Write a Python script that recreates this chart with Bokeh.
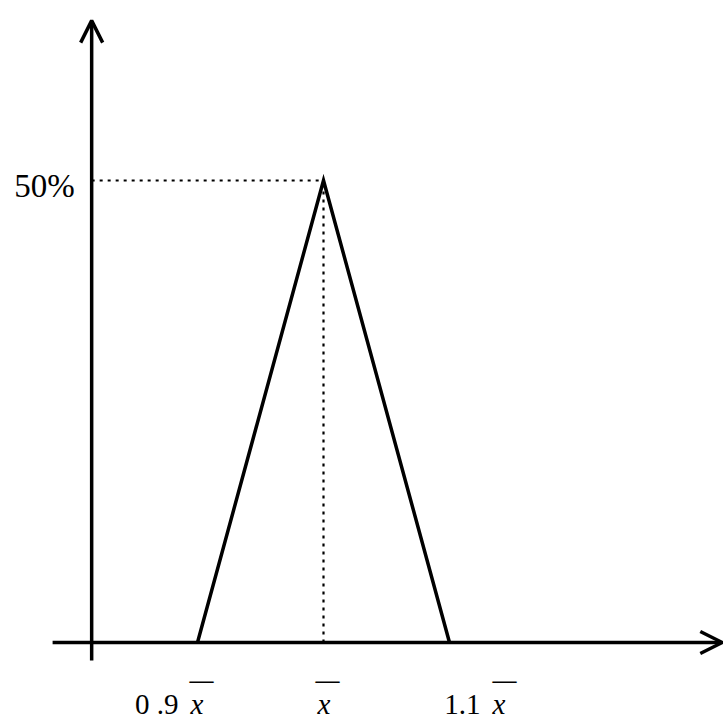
from bokeh.plotting import figure
from bokeh.models import Arrow, OpenHead, Range1d
from bokeh.core.properties import value
from bokeh.embed import file_html
from bokeh.resources import INLINE

# Triangular distribution: height (%) at 0.9·x̄, x̄ and 1.1·x̄
tri_x = [0.9, 1.0, 1.1]
tri_y = [0, 50, 0]

# Tick labels under the horizontal axis (numeric factor, then an italic x̄)
tick_values = [0.9, 1.0, 1.1]
tick_numbers = ["0 .9", "", "1.1"]
peak_label = "50%"

# Axis geometry (data units)
axis_x = 0.816          # where the vertical axis stands
x_axis_from, x_axis_to = 0.785, 1.3165
y_axis_from, y_axis_to = -1.95, 67.3

SERIF = value("Liberation Serif")

p = figure(width=723, height=717,
           x_range=Range1d(0.74365, 1.31746), y_range=Range1d(-8.117, 69.48),
           x_axis_location=None, y_axis_location=None,
           toolbar_location=None, output_backend="svg",
           min_border=0, outline_line_color=None,
           background_fill_color="white", border_fill_color="white")
p.grid.visible = False

# axes with open arrow heads
p.add_layout(Arrow(x_start=x_axis_from, y_start=0, x_end=x_axis_to, y_end=0,
                   line_width=3.5, line_color="black",
                   end=OpenHead(size=22, line_width=3.5, line_color="black")))
p.add_layout(Arrow(x_start=axis_x, y_start=y_axis_from, x_end=axis_x, y_end=y_axis_to,
                   line_width=3.5, line_color="black",
                   end=OpenHead(size=22, line_width=3.5, line_color="black")))

# dotted guides to the peak
p.line([axis_x, tri_x[1]], [tri_y[1], tri_y[1]], line_color="black",
       line_width=2.2, line_dash="3 5")
p.line([tri_x[1], tri_x[1]], [0, tri_y[1]], line_color="black",
       line_width=2.2, line_dash="3 5")

# the triangle
p.line(tri_x, tri_y, line_color="black", line_width=3.5, line_join="miter")

# peak label on the vertical axis
p.text(x=[axis_x], y=[tri_y[1]], text=[peak_label], text_font=SERIF,
       text_font_size="33px", text_align="right", text_baseline="alphabetic",
       x_offset=-17, y_offset=6, text_color="black")

# tick labels: number, italic x, and a bar over the x
p.text(x=tick_values, y=[0] * 3, text=tick_numbers, text_font=SERIF,
       text_font_size="29px", text_align="right", text_baseline="alphabetic",
       x_offset=[-19, 0, 31], y_offset=62, text_color="black")
p.text(x=tick_values, y=[0] * 3, text=["x"] * 3, text_font=SERIF,
       text_font_style="italic", text_font_size="29px", text_align="left",
       text_baseline="alphabetic", x_offset=[-7, -6, 43], y_offset=62,
       text_color="black")
p.text(x=tick_values, y=[0] * 3, text=["—"] * 3, text_font=SERIF,
       text_font_style="bold", text_font_size="24px", text_align="center",
       text_baseline="alphabetic", x_offset=[4, 4, 55], y_offset=38,
       text_color="black")

open("out.html", "w").write(file_html(p, INLINE))
